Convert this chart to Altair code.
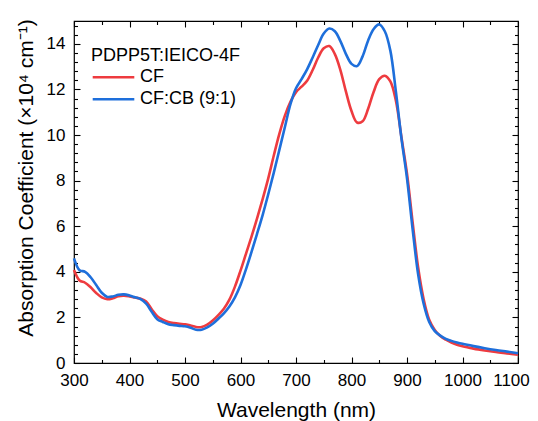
import altair as alt
import pandas as pd

wavelength = [300, 310, 320, 330, 340, 350, 360, 370, 380, 390,
              400, 410, 420, 430, 440, 450, 460, 470, 480, 490,
              500, 510, 520, 530, 540, 550, 560, 570, 580, 590,
              600, 610, 620, 630, 640, 650, 660, 670, 680, 690,
              700, 710, 720, 730, 740, 750, 760, 770, 780, 790,
              800, 810, 820, 830, 840, 850, 860, 870, 880, 890,
              900, 910, 920, 930, 940, 950, 960, 970, 980, 990,
              1000, 1020, 1040, 1060, 1080, 1100]

cf = [4.08, 3.62, 3.52, 3.32, 3.07, 2.88, 2.80, 2.84, 2.93, 2.95,
      2.92, 2.87, 2.82, 2.70, 2.36, 2.05, 1.90, 1.80, 1.75, 1.72,
      1.70, 1.64, 1.58, 1.58, 1.68, 1.86, 2.10, 2.38, 2.78, 3.35,
      4.05, 4.80, 5.55, 6.35, 7.20, 8.10, 9.10, 10.05, 10.85, 11.45,
      11.88, 12.12, 12.38, 12.85, 13.40, 13.80, 13.90, 13.55, 12.85, 11.90,
      11.05, 10.55, 10.60, 11.15, 11.90, 12.45, 12.60, 12.35, 11.50, 9.90,
      8.30, 6.20, 4.20, 2.80, 1.90, 1.45, 1.18, 1.02, 0.90, 0.80,
      0.73, 0.63, 0.55, 0.48, 0.42, 0.36]

cf_cb = [4.59, 4.07, 4.00, 3.76, 3.42, 3.08, 2.90, 2.92, 2.99, 3.01,
         2.96, 2.88, 2.80, 2.60, 2.25, 1.92, 1.80, 1.70, 1.66, 1.63,
         1.61, 1.55, 1.46, 1.46, 1.56, 1.72, 1.94, 2.18, 2.48, 2.88,
         3.42, 4.12, 4.88, 5.68, 6.50, 7.40, 8.35, 9.35, 10.35, 11.35,
         12.05, 12.45, 12.88, 13.40, 13.95, 14.45, 14.67, 14.55, 14.12, 13.55,
         13.12, 13.02, 13.45, 14.15, 14.65, 14.85, 14.55, 13.70, 11.90, 9.85,
         8.10, 5.90, 3.90, 2.60, 1.80, 1.40, 1.20, 1.06, 0.97, 0.90,
         0.84, 0.74, 0.65, 0.57, 0.50, 0.43]

series_names = ["CF", "CF:CB (9:1)"]
series_colors = ["#EE3B3F", "#1E6FDB"]

x_major = [300, 400, 500, 600, 700, 800, 900, 1000, 1100]
x_minor = [350, 450, 550, 650, 750, 850, 950, 1050]
y_major = [0, 2, 4, 6, 8, 10, 12, 14]
y_minor = [round(i * 0.4, 1) for i in range(38) if i % 5 != 0]

df = pd.DataFrame({
    "Wavelength": wavelength + wavelength,
    "Absorption": cf + cf_cb,
    "Film": [series_names[0]] * len(wavelength) + [series_names[1]] * len(wavelength),
})

FONT = "Liberation Sans"
x_scale = alt.Scale(domain=[300, 1100], nice=False, zero=False)
y_scale = alt.Scale(domain=[0, 15], nice=False, zero=False)

common = dict(grid=False, domain=False, tickColor="black", tickWidth=1.1,
              labelColor="black", labelFont=FONT, labelFontSize=17,
              labelFlush=False, labelOverlap=False)

ax_bottom = alt.Axis(orient="bottom", values=x_major, offset=-6, tickSize=6,
                     labelPadding=9, format="d", title="Wavelength (nm)",
                     labelOffset={"condition": {"test": "datum.value >= 1100", "value": -7},
                                  "value": 0},
                     titleFont=FONT, titleFontSize=21, titleFontWeight="normal",
                     titleColor="black", titleX=222, titleY=59.7,
                     titleAlign="center", titleBaseline="alphabetic", **common)
ax_left = alt.Axis(orient="left", values=y_major, offset=-6, tickSize=6,
                   labelPadding=9, format="d",
                   title="Absorption Coefficient (×10⁴ cm⁻¹)",
                   titleFont=FONT, titleFontSize=21, titleFontWeight="normal",
                   titleColor="black", titleX=-48, titleY=156.5, titleAngle=270,
                   titleAlign="center", titleBaseline="alphabetic", **common)

def plain_axis(orient, values, size):
    return alt.Axis(orient=orient, values=values, offset=-size, tickSize=size,
                    labels=False, title=None, **common)

legend = alt.Legend(orient="none", legendX=17, legendY=25.5,
                    title="PDPP5T:IEICO-4F", titleFont=FONT, titleFontSize=18,
                    titleFontWeight="normal", titleColor="black", titlePadding=2,
                    labelFont=FONT, labelFontSize=18, labelColor="black",
                    labelOffset=4, symbolType="stroke", symbolSize=1730,
                    symbolStrokeWidth=2.5, clipHeight=21.7, rowPadding=0,
                    padding=0)

lines = alt.Chart(df).mark_line(interpolate="catmull-rom", strokeWidth=2.6).encode(
    x=alt.X("Wavelength:Q", scale=x_scale, axis=ax_bottom),
    y=alt.Y("Absorption:Q", scale=y_scale, axis=ax_left),
    color=alt.Color("Film:N", scale=alt.Scale(domain=series_names, range=series_colors),
                    legend=legend),
)

def ghost(xaxis, yaxis):
    return alt.Chart(df).mark_line(opacity=0).encode(
        x=alt.X("Wavelength:Q", scale=x_scale, axis=xaxis),
        y=alt.Y("Absorption:Q", scale=y_scale, axis=yaxis),
        detail="Film:N",
    )

minor_bl = ghost(plain_axis("bottom", x_minor, 3.5), plain_axis("left", y_minor, 3.5))
major_tr = ghost(plain_axis("top", x_major, 6), plain_axis("right", y_major, 6))
minor_tr = ghost(plain_axis("top", x_minor, 3.5), plain_axis("right", y_minor, 3.5))

chart = alt.layer(lines, minor_bl, major_tr, minor_tr).resolve_axis(
    x="independent", y="independent"
).properties(
    width=444, height=342,
    autosize=alt.AutoSizeParams(type="none"),
    padding={"left": 66, "top": 13, "right": 12, "bottom": 58},
).configure_view(stroke="black", strokeWidth=1.2)

chart.save("out.html", embed_options={"renderer": "svg", "actions": False})
